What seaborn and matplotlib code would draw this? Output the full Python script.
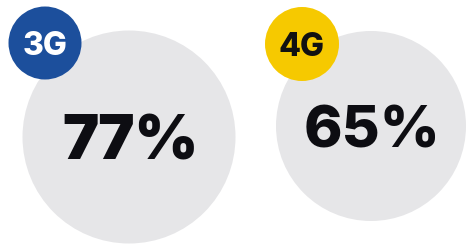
import matplotlib
matplotlib.use("Agg")
import matplotlib.pyplot as plt
import seaborn as sns
import pandas as pd

# data
networks = ["3G", "4G"]
shares = [77, 65]
badge_colors = ["#1c4f9c", "#f6c900"]
badge_text_colors = ["white", "#111111"]
share_weights = ["black", "heavy"]

# layout in pixels (figure is 466 x 246)
W, H = 466, 246
big_x = [129, 371]
big_y = [137, 126]
big_d = [213, 190]
badge_x = [45, 302]
badge_y = [43, 44]
badge_d = [73, 74]
share_size = [44, 42]

def px_to_s(d):
    # marker area in points^2 for a diameter in pixels at dpi=100
    return (d * 0.72) ** 2

sns.set_theme(style="white")
plt.rcParams['font.family'] = ['Inter', 'DejaVu Sans']

fig = plt.figure(figsize=(W / 100, H / 100), dpi=100)
ax = fig.add_axes([0, 0, 1, 1])

df_big = pd.DataFrame({'net': networks, 'x': big_x, 'y': big_y})
sns.scatterplot(data=df_big, x='x', y='y', size='net',
                sizes={n: px_to_s(d) for n, d in zip(networks, big_d)},
                color="#e6e6e8", linewidth=0, legend=False, ax=ax, zorder=1)

df_badge = pd.DataFrame({'net': networks, 'x': badge_x, 'y': badge_y})
sns.scatterplot(data=df_badge, x='x', y='y', hue='net', size='net',
                palette=dict(zip(networks, badge_colors)),
                sizes={n: px_to_s(d) for n, d in zip(networks, badge_d)},
                linewidth=0, legend=False, ax=ax, zorder=2)

for i, net in enumerate(networks):
    ax.text(big_x[i] + 1, big_y[i], f"{shares[i]}%", ha='center', va='center_baseline',
            fontsize=share_size[i], fontweight=share_weights[i], color="#0d0d12", zorder=3)
    ax.text(badge_x[i], badge_y[i], net, ha='center', va='center_baseline',
            fontsize=23, fontweight='heavy', color=badge_text_colors[i], zorder=3)

ax.set_xlim(0, W)
ax.set_ylim(H, 0)
ax.set_axis_off()

fig.savefig("out.png", dpi=100, facecolor="white")
